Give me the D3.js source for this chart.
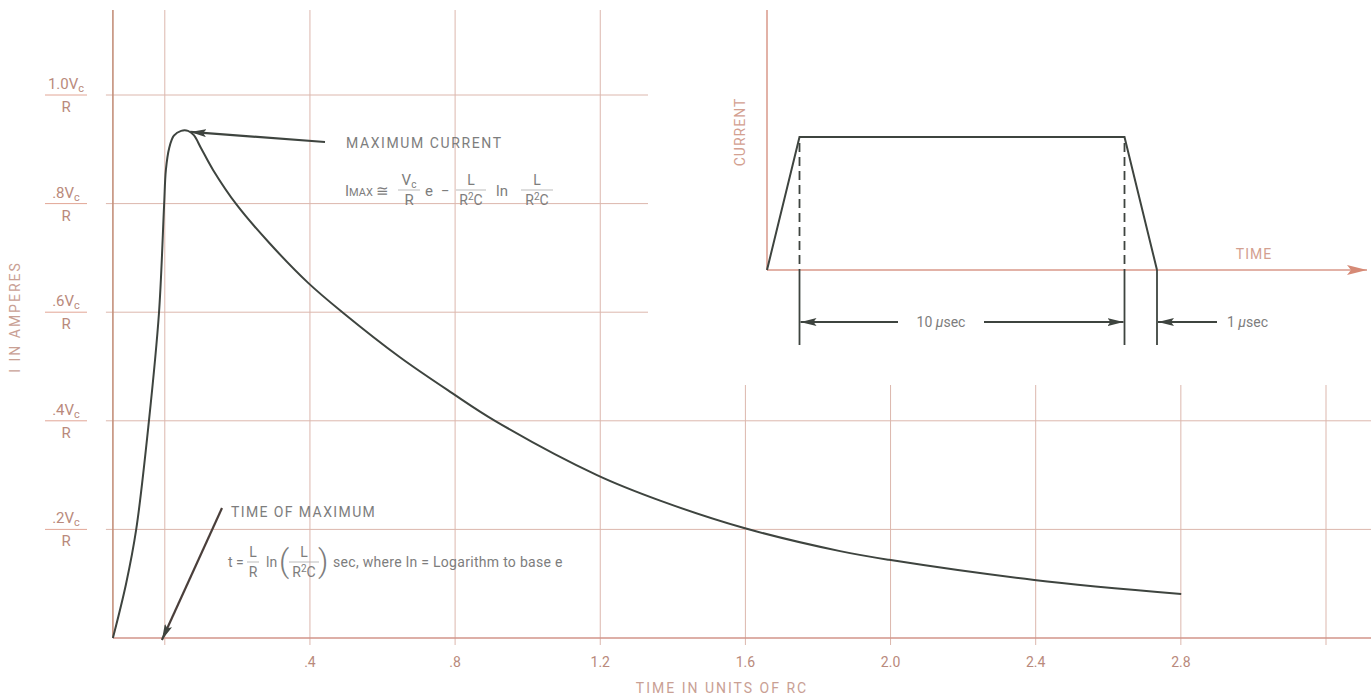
<!DOCTYPE html>
<html>
<head>
<meta charset="utf-8">
<script src="https://cdn.jsdelivr.net/npm/d3@7"></script>
<style>
  body { margin: 0; background: #fff; }
  svg { display: block; font-family: Roboto, "Liberation Sans", Arial, sans-serif; }
</style>
</head>
<body>
<svg id="chart"></svg>
<script>
const width = 1371;
const height = 696;

// y tick values and their labels (numerator, subscript, denominator)
const yTicks = [0.2, 0.4, 0.6, 0.8, 1.0];
const yTickLabels = [".2V", ".4V", ".6V", ".8V", "1.0V"];

// x ticks in units of RC
const xTicks = [0.4, 0.8, 1.2, 1.6, 2.0, 2.4, 2.8];
const xTickLabels = [".4", ".8", "1.2", "1.6", "2.0", "2.4", "2.8"];
const gridUpperX = [0, 0.4, 0.8, 1.2];
const gridLowerX = [1.6, 2.0, 2.4, 2.8, 3.2];
const gridUpperY = [0.6, 0.8, 1.0];
const gridLowerY = [0.2, 0.4];

// current curve (t in RC, i in Vc/R)
const curveT = [-0.143, -0.107, -0.079, -0.044, -0.016, -0.002, 0.003, 0.012, 0.025, 0.045,
                0.064, 0.080, 0.100, 0.133, 0.199, 0.290, 0.395, 0.491, 0.648, 0.792,
                0.910, 1.191, 1.365, 1.594, 1.861, 1.996, 2.396, 2.801];
const curveI = [0, 0.099, 0.199, 0.398, 0.599, 0.796, 0.862, 0.902, 0.925, 0.934,
                0.934, 0.926, 0.902, 0.862, 0.797, 0.726, 0.654, 0.599, 0.517, 0.451,
                0.400, 0.300, 0.253, 0.203, 0.160, 0.144, 0.107, 0.081];

// inset pulse (microseconds, relative current)
const pulseT = [0, 1, 11, 12];
const pulseI = [0, 1, 1, 0];

const axisColor = "#c4907a";
const gridColor = "#dcb7ad";
const labelColor = "#b98a7c";
const inkColor = "#3e443f";
const noteColor = "#7d7d7d";

const svg = d3.select("#chart")
    .attr("width", width)
    .attr("height", height)
    .attr("viewBox", [0, 0, width, height]);

const x = d3.scaleLinear().domain([0, 3.2]).range([164.8, 1326]);
const y = d3.scaleLinear().domain([0, 1]).range([638, 95]);
const tOrigin = curveT[0];

// arrow markers
const defs = svg.append("defs");
defs.append("marker")
    .attr("id", "arrow")
    .attr("viewBox", "0 0 16 8")
    .attr("refX", 16).attr("refY", 4)
    .attr("markerWidth", 16).attr("markerHeight", 8)
    .attr("markerUnits", "userSpaceOnUse")
    .attr("orient", "auto-start-reverse")
    .append("path").attr("d", "M0,0 L16,4 L0,8 L3,4 z").attr("fill", inkColor);
defs.append("marker")
    .attr("id", "axisArrow")
    .attr("viewBox", "0 0 20 10")
    .attr("refX", 20).attr("refY", 5)
    .attr("markerWidth", 20).attr("markerHeight", 10)
    .attr("markerUnits", "userSpaceOnUse")
    .attr("orient", "auto")
    .append("path").attr("d", "M0,0 L20,5 L0,10 L4,5 z").attr("fill", "#d68a76");

// grid
const grid = svg.append("g").attr("stroke", gridColor).attr("stroke-width", 1);
grid.selectAll(".vu").data(gridUpperX).join("line")
    .attr("x1", d => x(d)).attr("x2", d => x(d))
    .attr("y1", 10).attr("y2", y(0) + 7);
grid.selectAll(".vl").data(gridLowerX).join("line")
    .attr("x1", d => x(d)).attr("x2", d => x(d))
    .attr("y1", 385).attr("y2", y(0) + 7);
grid.selectAll(".hu").data(gridUpperY).join("line")
    .attr("x1", x(tOrigin) - 7).attr("x2", 648)
    .attr("y1", d => y(d)).attr("y2", d => y(d));
grid.selectAll(".hl").data(gridLowerY).join("line")
    .attr("x1", x(tOrigin) - 7).attr("x2", width)
    .attr("y1", d => y(d)).attr("y2", d => y(d));

// main axes
svg.append("line")
    .attr("x1", x(tOrigin)).attr("x2", x(tOrigin))
    .attr("y1", 10).attr("y2", y(0))
    .attr("stroke", axisColor).attr("stroke-width", 1.6);
svg.append("line")
    .attr("x1", x(tOrigin)).attr("x2", width)
    .attr("y1", y(0)).attr("y2", y(0))
    .attr("stroke", "#d2958a").attr("stroke-width", 1.6);

// y tick labels as fractions
const yl = svg.append("g").attr("fill", labelColor).attr("font-size", 15);
yTicks.forEach((v, i) => {
    const cy = y(v);
    const t = yl.append("text").attr("x", 66).attr("y", cy - 6).attr("text-anchor", "middle");
    t.append("tspan").text(yTickLabels[i]);
    t.append("tspan").attr("font-size", 11).attr("dy", 3).text("c");
    yl.append("line")
        .attr("x1", 45).attr("x2", 87).attr("y1", cy).attr("y2", cy)
        .attr("stroke", "#e2a696").attr("stroke-width", 1);
    yl.append("text").attr("x", 66).attr("y", cy + 17).attr("text-anchor", "middle").text("R");
});

// x tick labels
svg.append("g").attr("fill", labelColor).attr("font-size", 14)
    .selectAll("text").data(xTicks).join("text")
    .attr("x", d => x(d)).attr("y", 667)
    .attr("text-anchor", "middle")
    .text((d, i) => xTickLabels[i]);

svg.append("text")
    .attr("x", 722).attr("y", 693)
    .attr("text-anchor", "middle")
    .attr("fill", "#c9a094").attr("font-size", 14).attr("letter-spacing", 2)
    .text("TIME IN UNITS OF RC");

svg.append("text")
    .attr("transform", "translate(20,317) rotate(-90)")
    .attr("text-anchor", "middle")
    .attr("fill", "#c9a094").attr("font-size", 14).attr("letter-spacing", 2)
    .text("I IN AMPERES");

// curve
const curve = curveT.map((t, i) => [t, curveI[i]]);
svg.append("path")
    .datum(curve)
    .attr("fill", "none")
    .attr("stroke", inkColor)
    .attr("stroke-width", 2)
    .attr("d", d3.line().x(d => x(d[0])).y(d => y(d[1])).curve(d3.curveCatmullRom.alpha(0.5)));

// annotation: maximum current
svg.append("line")
    .attr("x1", 325).attr("y1", 142)
    .attr("x2", x(0.07)).attr("y2", y(0.932))
    .attr("stroke", inkColor).attr("stroke-width", 2.2)
    .attr("marker-end", "url(#arrow)");
svg.append("text")
    .attr("x", 346).attr("y", 148)
    .attr("fill", noteColor).attr("font-size", 14).attr("letter-spacing", 1.6)
    .text("MAXIMUM CURRENT");

function fraction(g, cx, cy, num, den, w, size) {
    const n = g.append("text").attr("x", cx).attr("y", cy - 5).attr("text-anchor", "middle").attr("font-size", size);
    num(n);
    g.append("line").attr("x1", cx - w / 2).attr("x2", cx + w / 2)
        .attr("y1", cy).attr("y2", cy).attr("stroke", "#aaa").attr("stroke-width", 0.8);
    const d = g.append("text").attr("x", cx).attr("y", cy + 15).attr("text-anchor", "middle").attr("font-size", size);
    den(d);
}
const r2c = t => {
    t.append("tspan").text("R");
    t.append("tspan").attr("font-size", 10).attr("dy", -5).text("2");
    t.append("tspan").attr("dy", 5).text("C");
};

const f1 = svg.append("g").attr("fill", noteColor).attr("font-size", 15);
f1.append("text").attr("x", 345).attr("y", 196)
    .call(t => {
        t.append("tspan").text("I");
        t.append("tspan").attr("font-size", 11).text("MAX");
    });
f1.append("text").attr("x", 376).attr("y", 196).text("≅");
fraction(f1, 409, 190, t => {
    t.append("tspan").text("V");
    t.append("tspan").attr("font-size", 10).attr("dy", 3).text("c");
}, t => t.text("R"), 22, 15);
f1.append("text").attr("x", 425).attr("y", 196).text("e");
f1.append("text").attr("x", 441).attr("y", 196).text("−");
fraction(f1, 471, 190, t => t.text("L"), r2c, 30, 14);
f1.append("text").attr("x", 496).attr("y", 196).text("ln");
fraction(f1, 537, 190, t => t.text("L"), r2c, 32, 14);

// annotation: time of maximum
svg.append("line")
    .attr("x1", 222).attr("y1", 508)
    .attr("x2", x(-0.008)).attr("y2", y(0) + 2)
    .attr("stroke", "#4a3f3b").attr("stroke-width", 2.2)
    .attr("marker-end", "url(#arrow)");
svg.append("text")
    .attr("x", 231).attr("y", 517)
    .attr("fill", noteColor).attr("font-size", 14).attr("letter-spacing", 1.4)
    .text("TIME OF MAXIMUM");

const f2 = svg.append("g").attr("fill", noteColor).attr("font-size", 14);
f2.append("text").attr("x", 228).attr("y", 567).text("t");
f2.append("text").attr("x", 236).attr("y", 567).text("=");
fraction(f2, 253, 562, t => t.text("L"), t => t.text("R"), 12, 14);
f2.append("text").attr("x", 266).attr("y", 567).text("ln");
f2.append("text").attr("x", 279).attr("y", 572).attr("font-size", 32).attr("font-weight", 300).text("(");
fraction(f2, 304, 562, t => t.text("L"), r2c, 30, 14);
f2.append("text").attr("x", 318).attr("y", 572).attr("font-size", 32).attr("font-weight", 300).text(")");
f2.append("text").attr("x", 333).attr("y", 567).attr("letter-spacing", 0.3).text("sec, where ln = Logarithm to base e");

// inset
const xi = d3.scaleLinear().domain([0, 12]).range([767, 1157]);
const yi = d3.scaleLinear().domain([0, 1]).range([270, 137]);
const inset = svg.append("g");

inset.append("line")
    .attr("x1", xi(0)).attr("x2", xi(0)).attr("y1", 10).attr("y2", yi(0))
    .attr("stroke", "#d9998a").attr("stroke-width", 1.5);
inset.append("line")
    .attr("x1", xi(0)).attr("x2", 1367).attr("y1", yi(0)).attr("y2", yi(0))
    .attr("stroke", "#d9998a").attr("stroke-width", 1.6)
    .attr("marker-end", "url(#axisArrow)");

inset.append("text")
    .attr("transform", `translate(745,${(yi(0) + 10) / 2 - 8}) rotate(-90)`)
    .attr("text-anchor", "middle")
    .attr("fill", "#d3a090").attr("font-size", 14).attr("letter-spacing", 1)
    .text("CURRENT");
inset.append("text")
    .attr("x", 1254).attr("y", 259)
    .attr("text-anchor", "middle")
    .attr("fill", "#d3a090").attr("font-size", 14).attr("letter-spacing", 1)
    .text("TIME");

const pulse = pulseT.map((t, i) => [t, pulseI[i]]);
inset.append("path")
    .datum(pulse)
    .attr("fill", "none")
    .attr("stroke", inkColor)
    .attr("stroke-width", 2)
    .attr("d", d3.line().x(d => xi(d[0])).y(d => yi(d[1])));

// dashed drop lines at end of rise and start of fall
inset.selectAll(".dash").data([pulseT[1], pulseT[2]]).join("line")
    .attr("x1", d => xi(d)).attr("x2", d => xi(d))
    .attr("y1", yi(1) + 6).attr("y2", yi(0))
    .attr("stroke", inkColor).attr("stroke-width", 1.8)
    .attr("stroke-dasharray", "9,5");

// extension lines below axis
inset.selectAll(".ext").data([pulseT[1], pulseT[2], pulseT[3]]).join("line")
    .attr("x1", d => xi(d)).attr("x2", d => xi(d))
    .attr("y1", yi(0)).attr("y2", 345)
    .attr("stroke", inkColor).attr("stroke-width", 1.8);

// dimension arrows
const dimY = 322;
inset.append("line")
    .attr("x1", 898).attr("x2", xi(pulseT[1]) + 1).attr("y1", dimY).attr("y2", dimY)
    .attr("stroke", inkColor).attr("stroke-width", 2).attr("marker-end", "url(#arrow)");
inset.append("line")
    .attr("x1", 984).attr("x2", xi(pulseT[2]) - 1).attr("y1", dimY).attr("y2", dimY)
    .attr("stroke", inkColor).attr("stroke-width", 2).attr("marker-end", "url(#arrow)");
inset.append("line")
    .attr("x1", 1217).attr("x2", xi(pulseT[3]) + 1).attr("y1", dimY).attr("y2", dimY)
    .attr("stroke", inkColor).attr("stroke-width", 2).attr("marker-end", "url(#arrow)");

inset.append("text")
    .attr("x", 941).attr("y", dimY + 5)
    .attr("text-anchor", "middle")
    .attr("fill", noteColor).attr("font-size", 14)
    .call(t => {
        t.append("tspan").text("10  ");
        t.append("tspan").attr("font-style", "italic").text("μ");
        t.append("tspan").text("sec");
    });
inset.append("text")
    .attr("x", 1227).attr("y", dimY + 5)
    .attr("fill", noteColor).attr("font-size", 14)
    .call(t => {
        t.append("tspan").text("1  ");
        t.append("tspan").attr("font-style", "italic").text("μ");
        t.append("tspan").text("sec");
    });
</script>
</body>
</html>
